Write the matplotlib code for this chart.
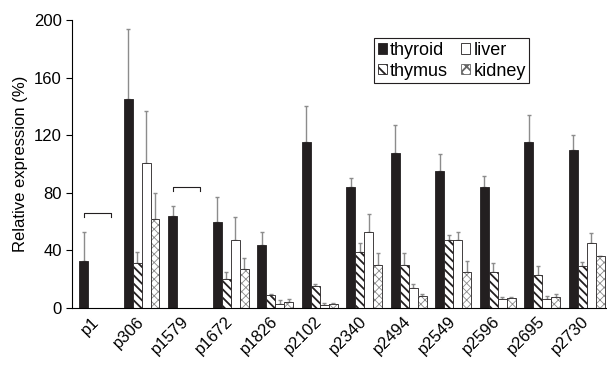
import matplotlib
matplotlib.use("Agg")
import matplotlib.pyplot as plt
import matplotlib.transforms as mtransforms
from matplotlib.patches import Patch
import numpy as np

plt.rcParams['font.family'] = ['Liberation Sans', 'DejaVu Sans']
plt.rcParams['hatch.linewidth'] = 1.3

probes = ['p1', 'p306', 'p1579', 'p1672', 'p1826', 'p2102', 'p2340',
          'p2494', 'p2549', 'p2596', 'p2695', 'p2730']
tissues = ['thyroid', 'thymus', 'liver', 'kidney']

nan = np.nan
thyroid = [33, 145, 64, 60, 44, 115, 84, 108, 95, 84, 115, 110]
thyroid_err = [20, 49, 7, 17, 9, 25, 6, 19, 12, 8, 19, 10]
thymus = [nan, 31, nan, 20, 9, 15, 39, 30, 47, 25, 23, 29]
thymus_err = [nan, 8, nan, 5, 1, 1.5, 6, 8, 4, 6, 6, 3]
liver = [nan, 101, nan, 47, 3, 2, 53, 14, 47, 6.5, 6.3, 45]
liver_err = [nan, 36, nan, 16, 2.5, 1.2, 12, 2.5, 6, 1, 2, 7]
kidney = [nan, 62, nan, 27, 4, 3, 30, 8.5, 25, 7, 8, 36]
kidney_err = [nan, 18, nan, 8, 2.5, 0.5, 8, 1, 8, 0.5, 1.5, 0]

# probes where only thyroid was measured (bracket height)
bracket_probes = [0, 2]
bracket_levels = [66, 84]

values = [thyroid, thymus, liver, kidney]
errors = [thyroid_err, thymus_err, liver_err, kidney_err]
dark = '#231f20'


def hatch_width(patches, lw):
    for p in patches:
        if hasattr(p, 'set_hatch_linewidth'):
            p.set_hatch_linewidth(lw)


fig = plt.figure(figsize=(6.07, 3.65), dpi=100)
ax = fig.add_axes([0.119, 0.156, 0.88, 0.789])

x = np.arange(len(probes))
w = 0.2
for j, t in enumerate(tissues):
    pos = x + (j - 1.5) * w
    if j == 0:
        ax.bar(pos, values[j], w, color=dark, edgecolor=dark, linewidth=0.6, zorder=2)
    elif j == 1:
        bars = ax.bar(pos, values[j], w, color='white', edgecolor=dark, linewidth=0.6,
                      hatch='\\\\\\\\', zorder=2)
        hatch_width(bars, 1.3)
    elif j == 2:
        ax.bar(pos, values[j], w, color='white', edgecolor=dark, linewidth=0.6, zorder=2)
    else:
        bars = ax.bar(pos, values[j], w, color='white', edgecolor='#8a8a8a', linewidth=0,
                      hatch='xxxx', zorder=2)
        hatch_width(bars, 0.6)
        ax.bar(pos, values[j], w, fill=False, edgecolor=dark, linewidth=0.6, zorder=3)
    ax.errorbar(pos, values[j], yerr=[np.zeros(len(probes)), errors[j]], fmt='none',
                ecolor='#8c8c8c', elinewidth=1.0, capsize=1.5, capthick=1.0, zorder=1)

for i, lev in zip(bracket_probes, bracket_levels):
    x0, x1 = x[i] - 1.5 * w, x[i] + 1.5 * w
    ax.plot([x0, x0, x1, x1], [lev - 3, lev, lev, lev - 3], color=dark, lw=0.8)

ax.set_xlim(-0.56, 11.44)
ax.set_ylim(0, 200)
ax.set_yticks(np.arange(0, 201, 40))
ax.set_xticks(x)
ax.set_xticklabels(probes, rotation=45, ha='right', va='center', rotation_mode='anchor',
                   fontsize=12)
offset = mtransforms.ScaledTranslation(9 / 100, -5 / 100, fig.dpi_scale_trans)
for lab in ax.get_xticklabels():
    lab.set_transform(lab.get_transform() + offset)
ax.tick_params(axis='x', length=0, pad=8)
ax.tick_params(axis='y', labelsize=12, length=4, direction='out')
ax.set_ylabel('Relative expression (%)', fontsize=12)
for s in ['top', 'right']:
    ax.spines[s].set_visible(False)

handles = [Patch(facecolor=dark, edgecolor=dark, linewidth=0.6),
           Patch(facecolor='white', edgecolor=dark, linewidth=0.6, hatch='\\\\\\'),
           Patch(facecolor='white', edgecolor=dark, linewidth=0.6),
           Patch(facecolor='white', edgecolor='#666666', linewidth=0.6, hatch='xxx')]
hatch_width(handles[3:], 0.6)
leg = ax.legend(handles, tissues, ncol=2, loc='upper left', bbox_to_anchor=(0.548, 0.968),
                fontsize=13, handlelength=0.5, handleheight=0.5, handletextpad=0.2,
                columnspacing=0.7, labelspacing=0.2, borderpad=0.2, fancybox=False,
                framealpha=1, edgecolor=dark)
leg.get_frame().set_linewidth(0.8)

fig.savefig('out.png', dpi=100)
